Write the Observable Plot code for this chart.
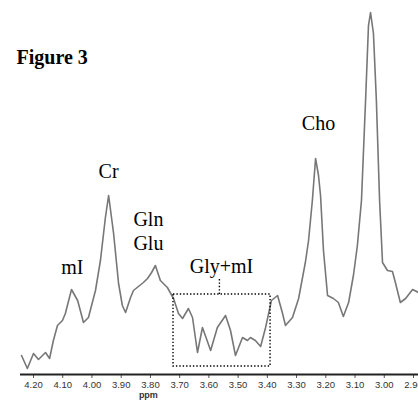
<!DOCTYPE html>
<html>
<head>
<meta charset="utf-8">
<script src="https://cdn.jsdelivr.net/npm/d3@7"></script>
<script src="https://cdn.jsdelivr.net/npm/@observablehq/plot@0.6"></script>
<style>
  html, body { margin: 0; padding: 0; background: #fff; }
  #chart svg { display: block; }
</style>
</head>
<body>
<div id="chart"></div>
<script>
// Spectrum: chemical shift (ppm) and signal intensity (arbitrary units)
const ppm = [4.241, 4.221, 4.200, 4.183, 4.159, 4.145, 4.132, 4.118, 4.101, 4.091,
  4.070, 4.049, 4.029, 4.012, 3.988, 3.971, 3.954, 3.943, 3.926, 3.909,
  3.896, 3.885, 3.868, 3.858, 3.824, 3.810, 3.796, 3.783, 3.766, 3.742,
  3.721, 3.704, 3.690, 3.670, 3.656, 3.639, 3.622, 3.594, 3.571, 3.543,
  3.526, 3.509, 3.485, 3.468, 3.458, 3.441, 3.423, 3.406, 3.386, 3.365,
  3.348, 3.338, 3.314, 3.293, 3.270, 3.259, 3.246, 3.235, 3.225, 3.218,
  3.208, 3.194, 3.174, 3.157, 3.140, 3.122, 3.105, 3.092, 3.078, 3.064,
  3.054, 3.047, 3.037, 3.027, 3.016, 3.006, 2.989, 2.972, 2.962, 2.945,
  2.927, 2.903, 2.883];
const intensity = [19, 6, 21, 15, 22, 16, 34, 49, 54, 61,
  85, 74, 52, 57, 84, 114, 157, 179, 141, 91,
  69, 62, 77, 84, 92, 96, 102, 109, 94, 87,
  76, 61, 56, 66, 57, 22, 47, 24, 47, 59,
  44, 19, 37, 34, 37, 34, 28, 47, 74, 79,
  61, 49, 57, 76, 112, 134, 174, 216, 199, 179,
  124, 79, 76, 72, 58, 72, 100, 129, 174, 274,
  349, 362, 341, 274, 174, 112, 104, 103, 92, 72,
  76, 85, 82];

// Axis ticks
const tickValues = [4.2, 4.1, 4.0, 3.9, 3.8, 3.7, 3.6, 3.5, 3.4, 3.3, 3.2, 3.1, 3.0, 2.9];

// Peak annotations
const peakLabels = ["mI", "Cr", "Gln\nGlu", "Gly+mI", "Cho"];
const peakPpm = [4.067, 3.943, 3.807, 3.557, 3.225];
const peakLevel = [108.6, 204.6, 144.4, 109.6, 252.6];

// Dotted region of interest (Gly+mI)
const boxPpm = [3.721, 3.389];
const boxLevel = [8, 80];
const leaderPpm = 3.564;
const leaderLevel = [80, 96];

const spectrum = ppm.map((p, i) => ({ppm: p, value: intensity[i]}));

const serif = "'Liberation Serif', 'Times New Roman', serif";
const sans = "'Liberation Sans', Arial, sans-serif";

const chart = Plot.plot({
  width: 418,
  height: 407,
  marginTop: 0,
  marginLeft: 20,
  marginRight: 0,
  marginBottom: 33,
  style: {background: "#fff"},
  x: {domain: [4.2, 2.9], range: [33, 413]},
  y: {domain: [0, 374], range: [374, 0], axis: null},
  marks: [
    Plot.axisX({
      ticks: tickValues,
      tickFormat: d3.format(".2f"),
      tickSize: 4,
      tickPadding: 3,
      fontSize: 9.5,
      fontFamily: sans,
      fill: "#333",
      stroke: "#555",
      label: null
    }),
    Plot.ruleY([0], {stroke: "#222", strokeWidth: 2}),
    Plot.line(spectrum, {x: "ppm", y: "value", stroke: "#777", strokeWidth: 1.6}),
    Plot.rect([0], {
      x1: () => boxPpm[0], x2: () => boxPpm[1],
      y1: () => boxLevel[0], y2: () => boxLevel[1],
      fill: "none", stroke: "#000", strokeWidth: 1.4, strokeDasharray: "1.4,2"
    }),
    Plot.ruleX([leaderPpm], {y1: leaderLevel[0], y2: leaderLevel[1], stroke: "#000", strokeWidth: 1.4, strokeDasharray: "1.4,2"}),
    Plot.text(peakLabels, {
      x: (d, i) => peakPpm[i], y: (d, i) => peakLevel[i], text: d => d,
      fontFamily: serif, fontSize: 20, fill: "#000", lineHeight: 1.22, textAnchor: "middle"
    }),
    Plot.text(["ppm"], {
      x: 3.807, y: -20.5, text: d => d,
      fontFamily: sans, fontSize: 9, fontWeight: "bold", fill: "#333"
    }),
    Plot.text(["Figure 3"], {
      frameAnchor: "top-left", dx: -4, dy: 49, text: d => d,
      textAnchor: "start", fontFamily: serif, fontSize: 20, fontWeight: "bold", fill: "#000"
    })
  ]
});
document.getElementById("chart").appendChild(chart);
</script>
</body>
</html>
